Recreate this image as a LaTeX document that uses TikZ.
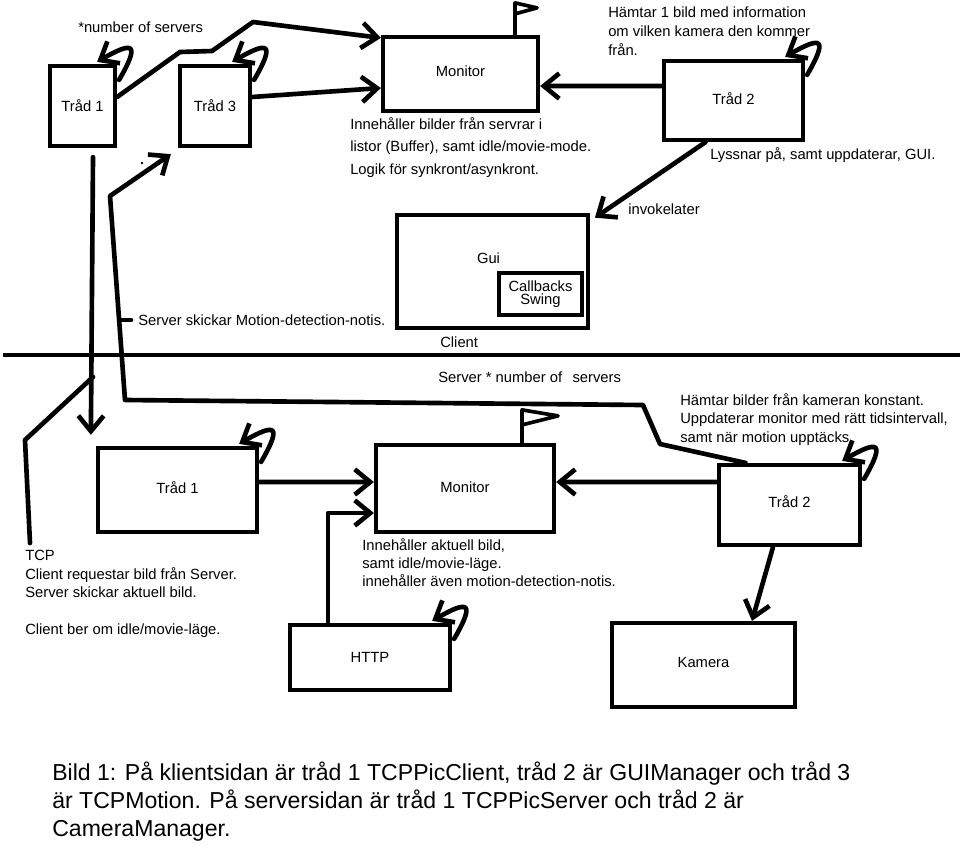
\documentclass[tikz,border=0pt]{standalone}
\usepackage{fontspec}
\setmainfont{Liberation Sans}
\usepackage{tikz}
\usetikzlibrary{arrows.meta}
\newcommand{\notefont}{\fontsize{10.5}{13.2}\selectfont}
\tikzstyle{thread}=[rectangle, draw, line width=3pt, minimum width=3.5cm, minimum height=2cm, font=\notefont]
\tikzstyle{note}=[align=left, inner sep=0pt, font=\notefont]
\tikzstyle{conn}=[line width=3.3pt, line join=round, line cap=round]
\tikzstyle{flag}=[line width=2.6pt, line join=round, line cap=round]

\begin{document}
\begin{tikzpicture}[x=0.025cm, y=-0.025cm, >={Straight Barb[length=11pt,width=18pt]}]
      %
      \useasboundingbox (0,0) rectangle (960,850);
      %
      % Client side: Tråd 1, Tråd 3, Monitor, Tråd 2, Gui
      %
      \node[thread, minimum width=1.625cm] (trad1c) at (82.5,106) {Tråd 1};
      \node[thread, minimum width=1.75cm] (trad3c) at (215,106) {Tråd 3};
      \node[thread, minimum width=3.875cm, minimum height=1.85cm] (monc) at (460.5,74) {\raisebox{0.12cm}{Monitor}};
      \node[thread, minimum width=3.475cm, minimum height=1.975cm] (trad2c) at (733.5,100.5) {\raisebox{0.1cm}{Tråd 2}};
      \node[thread, minimum width=4.775cm, minimum height=2.825cm] (gui) at (492.5,271.5) {};
      \node[font=\notefont] (guilabel) at ([shift={(-0.1cm,0.34cm)}]gui.center) {Gui};
      \node[thread, minimum width=2.075cm, minimum height=1.05cm, align=center, inner sep=1pt,
            font=\fontsize{10.5}{9.6}\selectfont] (callbacks) at (540.5,294) {Callbacks\\Swing};
      %
      \node[note, anchor=west] (numservers) at (78,27) {*number of servers};
      \node[note, anchor=north west, font=\fontsize{10.5}{16}\selectfont] (moncnote) at (350,117)
            {Innehåller bilder från servrar i\\listor (Buffer), samt idle/movie-mode.\\Logik för synkront/asynkront.};
      \node[note, anchor=north west] (trad2cnote) at (608,7)
            {Hämtar 1 bild med information\\om vilken kamera den kommer\\från.};
      \node[note, anchor=west] (guinote) at (710,155) {Lyssnar på, samt uppdaterar, GUI.};
      \node[note, anchor=west] (invoke) at (628,209) {invokelater};
      \node[note, anchor=west] (motnote) at (138,320) {Server skickar Motion-detection-notis.};
      \node[note, anchor=west] (clientlabel) at (440,342) {Client};
      \fill (142,163) circle (1.3);
      %
      % Client / Server divider
      %
      \draw[line width=3pt] (3,355) -- (960,355);
      \node[note, anchor=west] (serverlabel) at (438,377) {Server * number of\hspace{0.7em}servers};
      %
      % Server side: Tråd 1, Monitor, HTTP, Tråd 2, Kamera
      %
      \node[thread, minimum width=3.975cm, minimum height=2.1cm] (trad1s) at (177.5,490) {\raisebox{0.1cm}{Tråd 1}};
      \node[thread, minimum width=4.45cm, minimum height=2.175cm] (mons) at (465,488.5) {\raisebox{0.08cm}{Monitor}};
      \node[thread, minimum width=4cm, minimum height=1.625cm] (http) at (370,657.5) {HTTP};
      \node[thread, minimum width=3.525cm, minimum height=2cm] (trad2s) at (789.5,505) {\raisebox{0.15cm}{Tråd 2}};
      \node[thread, minimum width=4.575cm, minimum height=2.1cm] (kamera) at (703.5,665) {\raisebox{0.15cm}{Kamera}};
      %
      \node[note, anchor=north west] (trad2snote) at (680,393)
            {Hämtar bilder från kameran konstant.\\Uppdaterar monitor med rätt tidsintervall,\\samt när motion upptäcks.};
      \node[note, anchor=north west, font=\fontsize{10.5}{12.8}\selectfont] (monsnote) at (362,538)
            {Innehåller aktuell bild,\\samt idle/movie-läge.\\innehåller även motion-detection-notis.};
      \node[note, anchor=north west] (tcpnote) at (25,550)
            {TCP\\Client requestar bild från Server.\\Server skickar aktuell bild.\\[13.2pt]Client ber om idle/movie-läge.};
      %
      % Caption
      %
      \node[note, anchor=north west, font=\fontsize{16.4}{19.6}\selectfont] (caption) at (52,762)
            {Bild 1: På klientsidan är tråd 1 TCPPicClient, tråd 2 är GUIManager och tråd 3\\
             är TCPMotion. På serversidan är tråd 1 TCPPicServer och tråd 2 är\\
             CameraManager.};
      %
      % Flags on the monitors
      %
      \draw[flag] ([xshift=1.3625cm]monc.north) -- ++(0,-32) -- ++(22,5) -- ++(-22,6);
      \draw[flag] ([xshift=1.425cm]mons.north) -- ++(0,-33) -- ++(36,6) -- ++(-36,9);
      %
      % Self loops (*number of servers)
      %
      \draw[conn, ->] ([shift={(0.05cm,-0.4cm)}]trad1c.north east) to[out=60, in=30, looseness=3.8] ([shift={(-0.5cm,0.05cm)}]trad1c.north east);
      \draw[conn, ->] ([shift={(0.05cm,-0.4cm)}]trad3c.north east) to[out=60, in=30, looseness=3.8] ([shift={(-0.5cm,0.05cm)}]trad3c.north east);
      \draw[conn, ->] ([shift={(0.05cm,-0.4cm)}]trad2c.north east) to[out=60, in=30, looseness=3.8] ([shift={(-0.5cm,0.05cm)}]trad2c.north east);
      \draw[conn, ->] ([shift={(0.05cm,-0.4cm)}]trad1s.north east) to[out=60, in=30, looseness=3.8] ([shift={(-0.5cm,0.05cm)}]trad1s.north east);
      \draw[conn, ->] ([shift={(0.05cm,-0.4cm)}]http.north east) to[out=60, in=30, looseness=3.8] ([shift={(-0.5cm,0.05cm)}]http.north east);
      \draw[conn, ->] ([shift={(0.05cm,-0.4cm)}]trad2s.north east) to[out=60, in=30, looseness=3.8] ([shift={(-0.5cm,0.05cm)}]trad2s.north east);
      %
      % Tråd 1 --> Monitor, Tråd 3 --> Monitor, Tråd 2 --> Monitor
      %
      \draw[conn, ->] ([yshift=0.225cm]trad1c.east) -- (180,52) -- (212,51) -- (253,22) -- ([yshift=-0.075cm]monc.north west);
      \draw[conn, ->] ([yshift=0.225cm]trad3c.east) -- ([yshift=-0.35cm]monc.west);
      \draw[conn, ->] ([yshift=0.3625cm]trad2c.west) -- ([yshift=-0.3cm]monc.east);
      %
      % Tråd 2 --> Gui (invokelater)
      %
      \draw[conn, ->] ([xshift=-0.7cm]trad2c.south) -- ([shift={(0.12cm,-0.12cm)}]gui.north east);
      %
      % Server Tråd 2 --> Client Tråd 3 (motion-detection)
      %
      \draw[conn, ->] ([xshift=-1.1cm]trad2s.north) -- (660,444) -- (643,405) -- (125,400) -- (110,196) -- ([shift={(-0.175cm,-0.15cm)}]trad3c.south west);
      \draw[conn] ([xshift=-0.175cm]motnote.west) -- ([xshift=-0.425cm]motnote.west);
      %
      % Client Tråd 1 --> Server Tråd 1 (TCP)
      %
      \coordinate (tcpfork) at (93,377);
      \draw[conn, ->] ([shift={(0.2625cm,-0.225cm)}]trad1c.south) -- ([shift={(-0.125cm,0.275cm)}]trad1s.north west);
      \draw[conn] (tcpfork) -- (25,440) -- ([shift={(0.125cm,0.175cm)}]tcpnote.north west);
      %
      % Server side connections
      %
      \draw[conn, ->] ([yshift=0.2cm]trad1s.east) -- ([yshift=0.1625cm]mons.west);
      \draw[conn, ->] ([xshift=-1.05cm]http.north) |- ([yshift=-0.6125cm]mons.west);
      \draw[conn, ->] ([yshift=0.575cm]trad2s.west) -- ([yshift=0.1625cm]mons.east);
      \draw[conn, ->] ([xshift=-0.4125cm]trad2s.south) -- ([xshift=1.2125cm]kamera.north);
      %
    \end{tikzpicture}
\end{document}
